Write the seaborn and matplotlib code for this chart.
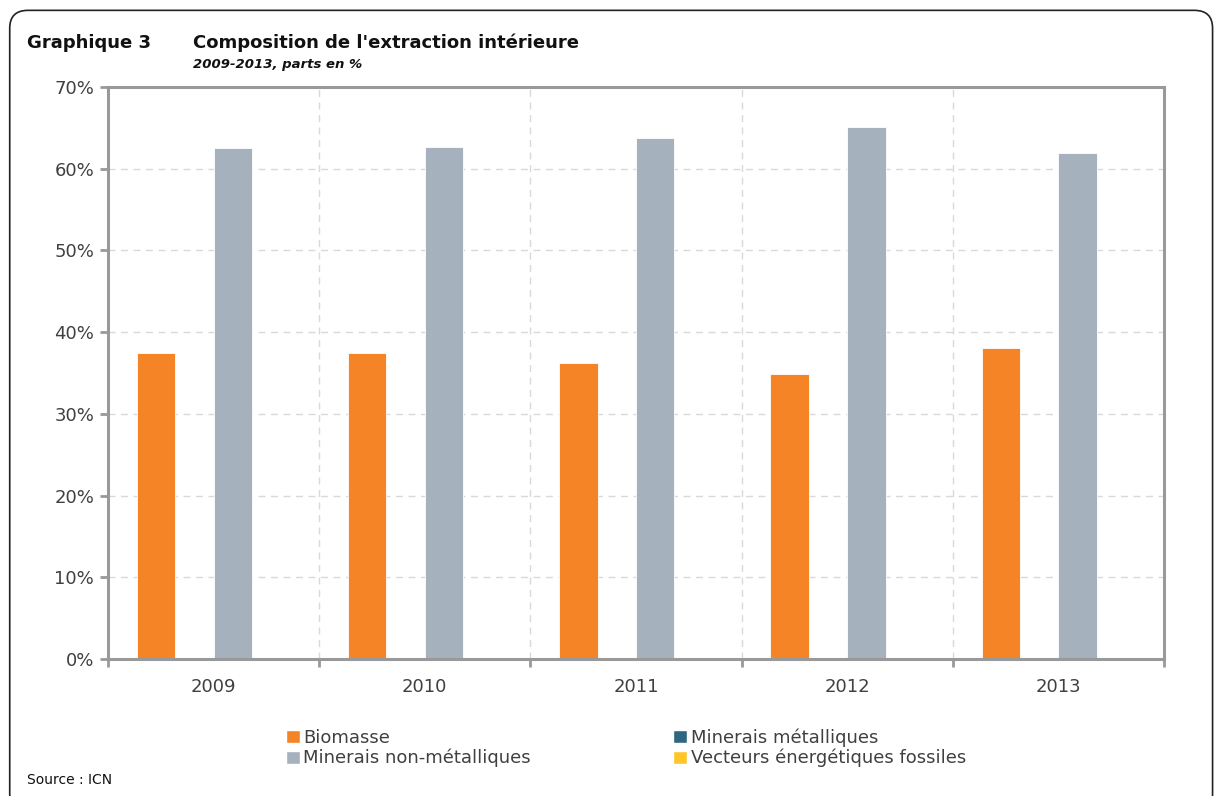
import matplotlib
matplotlib.use("Agg")
import matplotlib.pyplot as plt
import numpy as np
import pandas as pd
import seaborn as sns
from matplotlib.patches import FancyBboxPatch, Patch
from matplotlib.ticker import FixedLocator, PercentFormatter

years = ["2009", "2010", "2011", "2012", "2013"]
categories = ["Biomasse", "Minerais métalliques",
              "Minerais non-métalliques", "Vecteurs énergétiques fossiles"]
biomasse = [37.4, 37.4, 36.2, 34.9, 38.1]
metalliques = [0.0, 0.0, 0.0, 0.0, 0.0]
non_metalliques = [62.5, 62.6, 63.8, 65.1, 61.9]
fossiles = [0.0, 0.0, 0.0, 0.0, 0.0]
colors = ["#F58426", "#2E6880", "#A6B1BE", "#FFC629"]

df = pd.DataFrame({
    "year": years * 4,
    "cat": np.repeat(categories, len(years)),
    "value": biomasse + metalliques + non_metalliques + fossiles,
})

sns.set_style("white")
plt.rcParams["font.family"] = ["DejaVu Sans"]
grey = "#999999"
text_col = "#404040"

fig = plt.figure(figsize=(12.15, 7.96), dpi=100)
ax = fig.add_axes([0.0889, 0.1721, 0.8691, 0.7186])

sns.barplot(data=df, x="year", y="value", hue="cat", hue_order=categories,
            palette=colors, saturation=1, width=0.727, gap=0, ax=ax,
            legend=False, edgecolor="white", linewidth=0.6)

ax.set_xlim(-0.5, len(years) - 0.5)
ax.set_ylim(0, 70)
ax.yaxis.set_major_locator(FixedLocator(np.arange(0, 71, 10)))
ax.yaxis.set_major_formatter(PercentFormatter(decimals=0))
ax.set_xlabel("")
ax.set_ylabel("")

# dashed grid, vertical lines between the year groups
ax.grid(axis="y", color="#d9d9d9", linestyle=(0, (5, 4)), linewidth=1)
ax.xaxis.set_minor_locator(FixedLocator(np.arange(-0.5, len(years), 1)))
ax.grid(axis="x", which="minor", color="#d9d9d9", linestyle=(0, (5, 4)), linewidth=1)
ax.set_axisbelow(True)

for side in ["left", "right", "top", "bottom"]:
    ax.spines[side].set_visible(True)
    ax.spines[side].set_color(grey)
    ax.spines[side].set_linewidth(2.2)

ax.tick_params(axis="x", which="major", length=0, pad=14,
               labelsize=13, labelcolor=text_col)
ax.tick_params(axis="x", which="minor", bottom=True, length=6, width=2, color=grey)
ax.tick_params(axis="y", left=True, length=6, width=2, color=grey,
               labelsize=13, labelcolor=text_col, pad=4)

fig.text(0.022, 0.94, "Graphique 3", fontsize=13, fontweight="bold", color="#111111")
fig.text(0.159, 0.94, "Composition de l'extraction intérieure",
         fontsize=13, fontweight="bold", color="#111111")
fig.text(0.159, 0.915, "2009-2013, parts en %", fontsize=9.5,
         fontweight="bold", style="italic", color="#111111")
fig.text(0.022, 0.015, "Source : ICN", fontsize=10, color="#111111")

# legend filled row by row
order = [0, 2, 1, 3]
handles = [Patch(facecolor=colors[i], label=categories[i]) for i in order]
fig.legend(handles=handles, ncol=2, loc="upper left",
           bbox_to_anchor=(0.228, 0.096), frameon=False, fontsize=13,
           handlelength=0.75, handleheight=0.75, handletextpad=0.2,
           columnspacing=7.9, labelspacing=0.1, borderpad=0, labelcolor=text_col)

frame = FancyBboxPatch((0.008, -0.02), 0.99, 1.007, transform=fig.transFigure,
                       boxstyle="round,pad=0,rounding_size=0.015",
                       facecolor="none", edgecolor="#222222", linewidth=1.2,
                       mutation_aspect=1.5)
fig.patches.append(frame)

fig.savefig("out.png", dpi=100)
